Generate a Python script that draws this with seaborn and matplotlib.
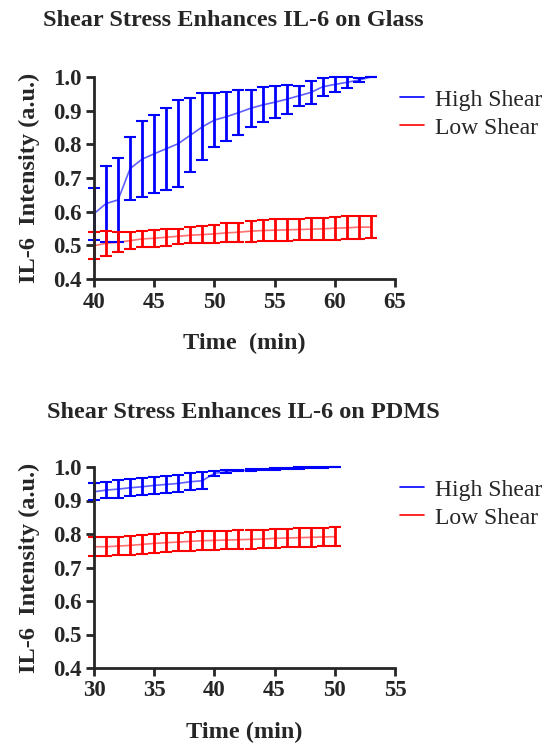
import numpy as np
import pandas as pd
import matplotlib
matplotlib.use("Agg")
import matplotlib.pyplot as plt
import seaborn as sns

### glass data (mean +/- error)
glass_time = list(range(40, 64))
glass_high = [0.594, 0.624, 0.635, 0.728, 0.756, 0.772, 0.787, 0.802, 0.827, 0.852,
              0.872, 0.882, 0.894, 0.907, 0.917, 0.925, 0.934, 0.944, 0.954, 0.971,
              0.978, 0.984, 0.991, 1.0]
glass_high_err = [0.077, 0.113, 0.125, 0.093, 0.112, 0.116, 0.122, 0.129, 0.110, 0.099,
                  0.079, 0.073, 0.066, 0.055, 0.052, 0.047, 0.043, 0.030, 0.033, 0.026,
                  0.023, 0.017, 0.006, 0.0]
glass_low = [0.499, 0.506, 0.509, 0.514, 0.519, 0.521, 0.524, 0.527, 0.530, 0.532,
             0.534, 0.537, 0.539, 0.542, 0.544, 0.545, 0.546, 0.547, 0.548, 0.549,
             0.551, 0.552, 0.554, 0.554]
glass_low_err = [0.040, 0.037, 0.030, 0.025, 0.025, 0.025, 0.025, 0.023, 0.024, 0.026,
                 0.027, 0.028, 0.028, 0.031, 0.032, 0.033, 0.033, 0.032, 0.033, 0.033,
                 0.034, 0.034, 0.034, 0.033]

### pdms data
pdms_time = list(range(30, 51))
pdms_high = [0.926, 0.931, 0.934, 0.938, 0.941, 0.945, 0.948, 0.951, 0.956, 0.959,
             0.981, 0.986, 0.989, 0.991, 0.993, 0.994, 0.996, 0.997, 0.998, 0.999, 1.0]
pdms_high_err = [0.025, 0.025, 0.026, 0.026, 0.026, 0.025, 0.025, 0.026, 0.026, 0.026,
                 0.008, 0.004, 0.002, 0.002, 0.002, 0.002, 0.002, 0.002, 0.001, 0.001, 0.0]
pdms_low = [0.762, 0.762, 0.764, 0.766, 0.769, 0.772, 0.774, 0.776, 0.778, 0.780,
            0.781, 0.782, 0.783, 0.784, 0.785, 0.787, 0.788, 0.789, 0.790, 0.791, 0.792]
pdms_low_err = [0.028] * 21

yticks = [0.4, 0.5, 0.6, 0.7, 0.8, 0.9, 1.0]

sns.set_style("ticks")
plt.rcParams['font.family'] = ['Liberation Serif', 'DejaVu Serif']

fig = plt.figure(figsize=(5.48, 7.43), dpi=100)
ax1 = fig.add_axes([94/548, 1 - 279/743, 301/548, 202/743])
ax2 = fig.add_axes([94/548, 1 - 668/743, 301/548, 201/743])

panels = [
    (ax1, glass_time, glass_high, glass_high_err, glass_low, glass_low_err,
     (40, 65), "Time  (min)", "Shear Stress Enhances IL-6 on Glass", 233, 20, 98),
    (ax2, pdms_time, pdms_high, pdms_high_err, pdms_low, pdms_low_err,
     (30, 55), "Time (min)", "Shear Stress Enhances IL-6 on PDMS", 243, 413, 488),
]

for ax, t, hi, hi_err, lo, lo_err, xlim, xlab, title, tx, ty, ly in panels:
    df = pd.DataFrame({
        'time': t + t,
        'value': hi + lo,
        'group': ['High Shear'] * len(t) + ['Low Shear'] * len(t),
    })
    sns.lineplot(data=df, x='time', y='value', hue='group',
                 palette={'High Shear': '#6060ff', 'Low Shear': '#ff7070'},
                 linewidth=1.2, ax=ax)
    for y, e, c in [(hi, hi_err, '#0000ff'), (lo, lo_err, '#ff0000')]:
        eb = ax.errorbar(t, y, yerr=e, fmt='none', ecolor=c,
                         elinewidth=2, capsize=4, capthick=1.5)
        for art in eb.lines[1] + eb.lines[2]:
            art.set_clip_on(False)

    ax.set_xlim(*xlim)
    ax.set_ylim(0.4, 1.0)
    ax.set_xticks(range(xlim[0], xlim[1] + 1, 5))
    ax.set_yticks(yticks)
    ax.set_yticklabels([f"{v:.1f}" for v in yticks])
    ax.set_xlabel(xlab, fontsize=17.5, fontweight='bold', labelpad=15)
    ax.set_ylabel("IL-6  Intensity (a.u.)", fontsize=17.5, fontweight='bold', labelpad=9)
    ax.tick_params(axis='both', labelsize=16.5, width=2, length=6, direction='out', pad=3)
    for lab in ax.get_xticklabels() + ax.get_yticklabels():
        lab.set_fontweight('bold')
    sns.despine(ax=ax)
    for s in ['left', 'bottom']:
        ax.spines[s].set_linewidth(2)

    fig.text(tx/548, 1 - ty/743, title, fontsize=17.5, fontweight='bold',
             ha='center', va='center')

    handles, labels = ax.get_legend_handles_labels()
    handles[0].set_color('#0000ff')
    handles[1].set_color('#ff0000')
    ax.legend(handles, labels, loc='upper left', bbox_to_anchor=(400/548, 1 - (ly - 9)/743),
              bbox_transform=fig.transFigure, frameon=False, fontsize=17,
              handlelength=1.0, handletextpad=0.5, labelspacing=0.28,
              borderaxespad=0, borderpad=0)

fig.savefig("out.png", dpi=100)
